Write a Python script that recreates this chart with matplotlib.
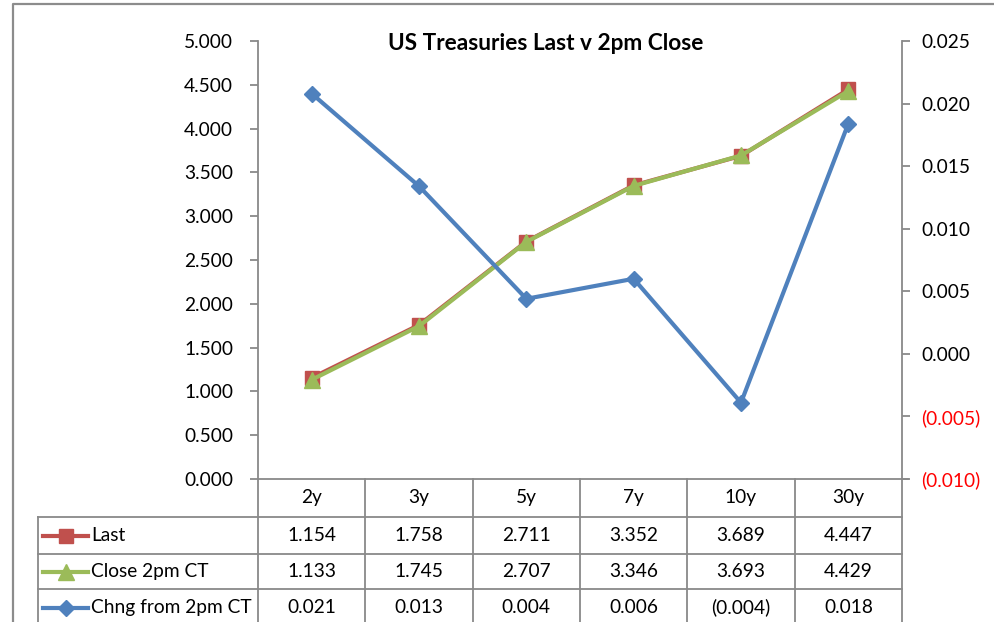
import matplotlib.pyplot as plt
import matplotlib.ticker as mticker
import numpy as np

plt.rcParams['font.family'] = ['Lato', 'DejaVu Sans']

tenors = ['2y', '3y', '5y', '7y', '10y', '30y']
last = [1.154, 1.758, 2.711, 3.352, 3.689, 4.447]
close_2pm = [1.133, 1.745, 2.707, 3.346, 3.693, 4.429]
chng = [0.0208, 0.0134, 0.0044, 0.0060, -0.0039, 0.0184]

left_ticks = np.arange(0, 5.01, 0.5)
right_ticks = [-0.010, -0.005, 0.000, 0.005, 0.010, 0.015, 0.020, 0.025]

RED = '#C0504D'
GREEN = '#9BBB59'
BLUE = '#4F81BD'
GRID = '#898989'
FS = 13.8

W, H = 994, 622
fig = plt.figure(figsize=(W / 100, H / 100), dpi=100)

# pixel layout
px_l, px_r, px_t, px_b = 258, 902, 41, 479
ax = fig.add_axes([px_l / W, 1 - px_b / H, (px_r - px_l) / W, (px_b - px_t) / H])
ax2 = ax.twinx()

x = np.arange(len(tenors))
ax.plot(x, last, color=RED, lw=3, marker='s', ms=10, zorder=3)
ax.plot(x, close_2pm, color=GREEN, lw=3, marker='^', ms=11, zorder=4)
ax2.plot(x, chng, color=BLUE, lw=3, marker='D', ms=8, zorder=5)

ax.set_xlim(-0.5, len(tenors) - 0.5)
ax.set_ylim(0, 5)
ax2.set_ylim(-0.010, 0.025)
ax.set_yticks(left_ticks)
ax2.set_yticks(right_ticks)
ax.yaxis.set_major_formatter(mticker.FuncFormatter(lambda v, p: f'{v:.3f}'))


def paren(v, p):
    if v < -1e-9:
        return f'({abs(v):.3f})'
    return f'{abs(v):.3f}'


ax2.yaxis.set_major_formatter(mticker.FuncFormatter(paren))
ax.set_xticks([])

for a in (ax, ax2):
    a.set_facecolor('none')
    for s in a.spines.values():
        s.set_color(GRID)
        s.set_linewidth(1.3)
    a.spines['top'].set_visible(False)
ax.spines['right'].set_visible(False)
ax2.spines['left'].set_visible(False)
ax2.spines['bottom'].set_visible(False)
ax.tick_params(axis='y', length=6, width=1.3, color=GRID, labelsize=FS, pad=12)
ax2.tick_params(axis='y', length=6, width=1.3, color=GRID, labelsize=FS, pad=8)
fig.canvas.draw()
for lab, v in zip(ax2.get_yticklabels(), right_ticks):
    if v < 0:
        lab.set_color('#FF0000')
# bottom spine extends to right tick like excel
ax.plot([len(tenors) - 0.5, len(tenors) - 0.5 + 6 / ((px_r - px_l) / len(tenors))], [0, 0],
        color=GRID, lw=1.3, clip_on=False)

fig.text(546 / W, 1 - 44 / H, 'US Treasuries Last v 2pm Close', ha='center', va='center',
         fontsize=16.3, fontweight='bold')

# overlay in pixel coordinates for table and frame
ov = fig.add_axes([0, 0, 1, 1], zorder=-1)
ov.set_xlim(0, W)
ov.set_ylim(H, 0)
ov.axis('off')

# chart frame
ov.plot([13, 13, W + 5], [H + 5, 4, 4], color='#8C8C8C', lw=1.6)

col_w = (px_r - px_l) / len(tenors)
rows = [px_b, 517, 554, 589, 626]
lbl_l = 38
# horizontal lines
for yy in rows[1:]:
    ov.plot([lbl_l, px_r], [yy, yy], color=GRID, lw=1.3)
# vertical lines
for i in range(len(tenors) + 1):
    xx = px_l + i * col_w
    ov.plot([xx, xx], [px_b, H + 5], color=GRID, lw=1.3)
ov.plot([lbl_l, lbl_l], [rows[1], H + 5], color=GRID, lw=1.3)


def fmt(v):
    return f'({abs(v):.3f})' if v < 0 else f'{v:.3f}'


for i, t in enumerate(tenors):
    cx = px_l + (i + 0.5) * col_w
    ov.text(cx, (rows[0] + rows[1]) / 2, t, ha='center', va='center', fontsize=FS)
    for r, series in enumerate([last, close_2pm, chng]):
        ov.text(cx, (rows[r + 1] + rows[r + 2]) / 2, fmt(series[i]), ha='center',
                va='center', fontsize=FS)

legend_rows = [('Last', RED, 's', 10), ('Close 2pm CT', GREEN, '^', 11),
               ('Chng from 2pm CT', BLUE, 'D', 8)]
for r, (name, c, m, ms) in enumerate(legend_rows):
    cy = (rows[r + 1] + rows[r + 2]) / 2
    ov.plot([43, 88], [cy, cy], color=c, lw=3)
    ov.plot([65.5], [cy], color=c, marker=m, ms=ms)
    ov.text(91, cy, name, ha='left', va='center', fontsize=FS)

fig.savefig('out.png', dpi=100)
